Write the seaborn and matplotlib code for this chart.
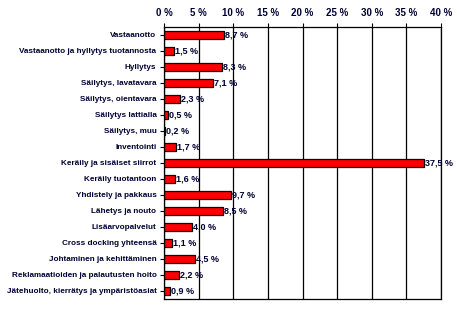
import matplotlib
matplotlib.use("Agg")
import matplotlib.pyplot as plt
import seaborn as sns
import pandas as pd

categories = [
    "Vastaanotto",
    "Vastaanotto ja hyllytys tuotannosta",
    "Hyllytys",
    "Säilytys, lavatavara",
    "Säilytys, oientavara",
    "Säilytys lattialla",
    "Säilytys, muu",
    "Inventointi",
    "Keräily ja sisäiset siirrot",
    "Keräily tuotantoon",
    "Yhdistely ja pakkaus",
    "Lähetys ja nouto",
    "Lisäarvopalvelut",
    "Cross docking yhteensä",
    "Johtaminen ja kehittäminen",
    "Reklamaatioiden ja palautusten hoito",
    "Jätehuolto, kierrätys ja ympäristöasiat",
]
values = [8.7, 1.5, 8.3, 7.1, 2.3, 0.5, 0.2, 1.7, 37.5, 1.6, 9.7, 8.5, 4.0, 1.1, 4.5, 2.2, 0.9]
xticks = [0, 5, 10, 15, 20, 25, 30, 35, 40]

df = pd.DataFrame({"cat": categories, "val": values})

sns.set_style("white")
plt.rcParams["font.family"] = ["Liberation Sans", "DejaVu Sans"]
plt.rcParams["font.weight"] = "bold"

fig = plt.figure(figsize=(4.57, 3.17), dpi=100)
ax = fig.add_axes([0.359, 0.057, 0.606, 0.858])
sns.barplot(data=df, y="cat", x="val", orient="h", color="#ff0000",
            edgecolor="black", linewidth=0.9, width=0.5, saturation=1, ax=ax)

ax.set_xlim(0, 40)
ax.set_ylim(len(categories) - 0.5, -0.5)
ax.set_xticks(xticks)
ax.set_xticklabels([f"{t} %" for t in xticks], fontsize=7, fontweight="bold", color="#000033")
ax.xaxis.tick_top()
ax.set_xlabel("")
ax.set_ylabel("")
ax.tick_params(axis="y", labelsize=5.9, length=3, width=0.8, color="black", left=True,
               labelcolor="#000033", pad=2.5)
ax.tick_params(axis="x", length=3, width=0.8, color="black", top=True, labelcolor="#000033")
for lbl in ax.get_yticklabels():
    lbl.set_fontweight("bold")
ax.grid(axis="x", color="black", linewidth=0.9)
ax.set_axisbelow(True)
for s in ax.spines.values():
    s.set_color("black")
    s.set_linewidth(0.9)

for i, v in enumerate(values):
    ax.text(v + 0.15, i, f"{v:.1f} %".replace(".", ","), va="center", ha="left",
            fontsize=6.5, fontweight="bold", color="#000033")

fig.savefig("out.png", dpi=100, facecolor="white")
